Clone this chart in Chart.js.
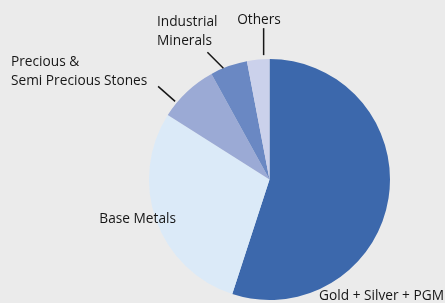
<!DOCTYPE html>
<html lang="en">
    <head>
        <meta charset="UTF-8">
        <title>Mineral sectors</title>
        <script src="https://cdn.jsdelivr.net/npm/chart.js@4.4.1/dist/chart.umd.min.js"></script>
        <style>
            body, html {
                margin: 0;
                padding: 0;
                background-color: #ebebeb;
            }
            #wrap {
                width: 445px;
                height: 303px;
            }
        </style>
    </head>
    <body>
        <div id="wrap"><canvas id="myChart"></canvas></div>
    </body>
    <script>
        // share of each sector, percent
        var sectors = ['Gold + Silver + PGM', 'Base Metals', ['Precious &', 'Semi Precious Stones'], ['Industrial', 'Minerals'], 'Others']
        var shares = [55, 29, 8, 5, 3]
        var colours = ['#3c68ac', '#dbeaf8', '#9baad5', '#6a88c3', '#cbd1eb']

        // draws the outside labels and their leader lines
        var sliceLabels = {
            id: 'sliceLabels',
            afterDatasetsDraw(chart, args, opts) {
                var ctx = chart.ctx
                var arcs = chart.getDatasetMeta(0).data
                ctx.save()
                ctx.font = opts.font
                ctx.fillStyle = opts.color
                ctx.strokeStyle = opts.color
                ctx.lineWidth = 1.5
                ctx.textBaseline = 'alphabetic'
                opts.items.forEach((it, i) => {
                    var p = arcs[i].getProps(['x', 'y', 'startAngle', 'endAngle', 'outerRadius'], true)
                    if (it.line) {
                        var a = p.startAngle + (p.endAngle - p.startAngle) * it.line.at
                        var r = p.outerRadius + it.line.gap
                        var x0 = p.x + Math.cos(a) * r
                        var y0 = p.y + Math.sin(a) * r
                        ctx.beginPath()
                        ctx.moveTo(x0, y0)
                        ctx.lineTo(x0 + it.line.dx, y0 + it.line.dy)
                        ctx.stroke()
                    }
                    var text = chart.data.labels[i]
                    var lines = Array.isArray(text) ? text : [text]
                    ctx.textAlign = it.align
                    lines.forEach((t, k) => ctx.fillText(t, it.x, it.y + k * opts.lineHeight))
                })
                ctx.restore()
            }
        }

        var ctx = document.getElementById('myChart').getContext('2d')
        var myChart = new Chart(ctx, {
            type: 'pie',
            data: {
                labels: sectors,
                datasets: [
                    {
                        data: shares,
                        backgroundColor: colours,
                        borderWidth: 0,
                    }
                ]
            },
            options: {
                responsive: true,
                maintainAspectRatio: false,
                animation: false,
                layout: {
                    padding: { top: 59, bottom: 3, left: 149, right: 55 }
                },
                plugins: {
                    legend: { display: false },
                    tooltip: { enabled: false },
                    sliceLabels: {
                        font: '13.7px "Open Sans"',
                        color: '#161616',
                        lineHeight: 18.7,
                        items: [
                            { x: 444, y: 300, align: 'right' },
                            { x: 176, y: 223, align: 'right' },
                            { x: 11, y: 66, align: 'left', line: { at: 0.25, gap: 2, dx: -17, dy: -15 } },
                            { x: 157, y: 26, align: 'left', line: { at: 0.35, gap: 0, dx: -16, dy: -16 } },
                            { x: 259, y: 23.5, align: 'center', line: { at: 0.75, gap: 4, dx: 0, dy: -27 } },
                        ]
                    }
                }
            },
            plugins: [sliceLabels]
        });
    </script>
</html>
